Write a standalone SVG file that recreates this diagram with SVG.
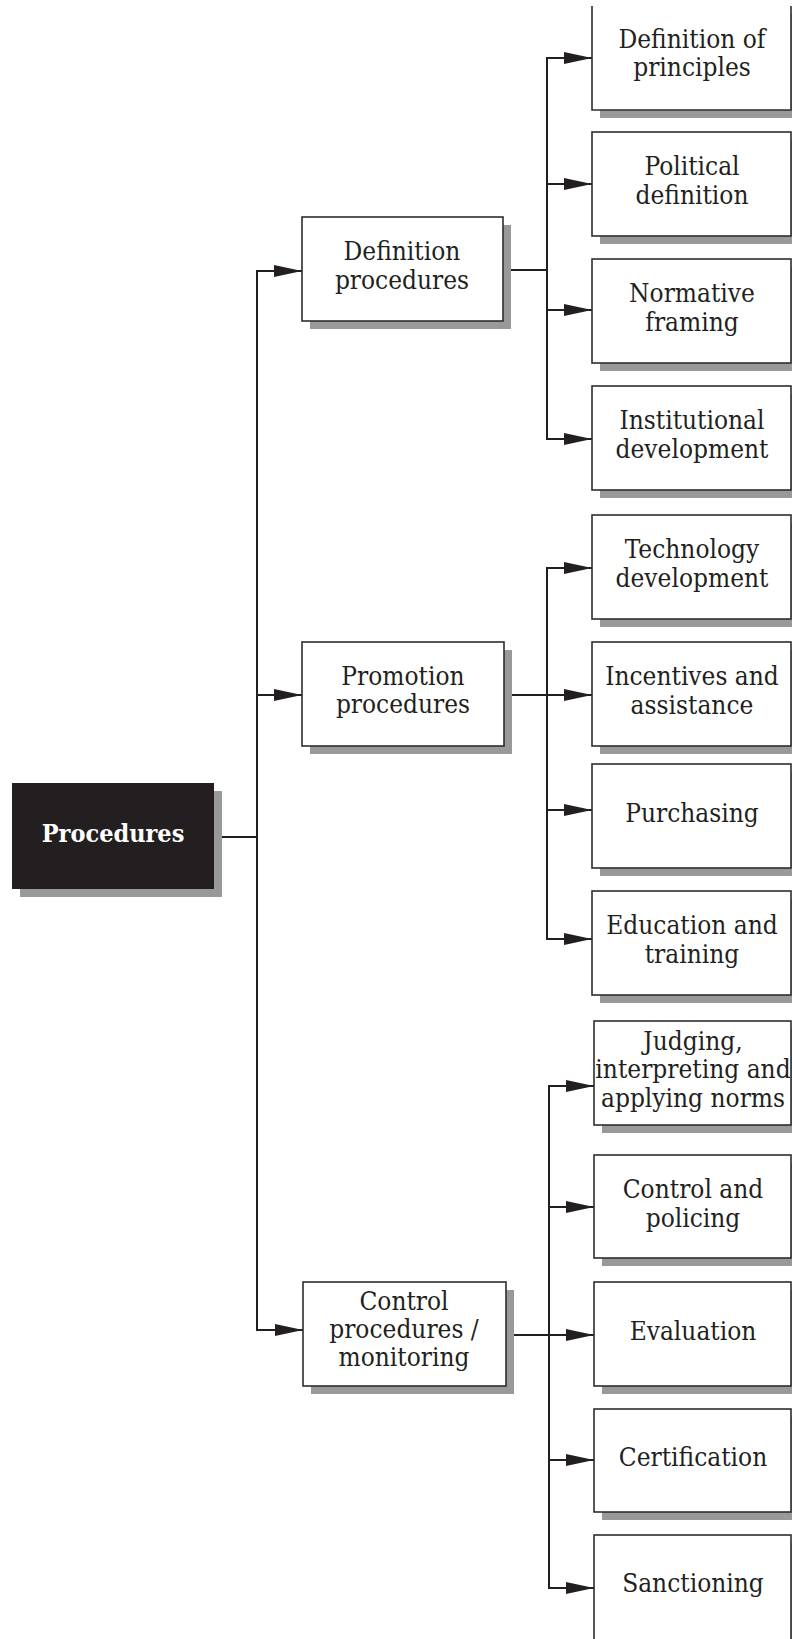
<svg xmlns="http://www.w3.org/2000/svg" width="792" height="1639" viewBox="0 0 792 1639">
  <style>
    .shadow { fill: #999999; }
    .box { fill: #ffffff; stroke: #2e2e2e; stroke-width: 1.6; }
    .root { fill: #231f20; }
    .lbl { font-family: "DejaVu Serif Condensed", "DejaVu Serif", serif; font-size: 26px; fill: #231f20; text-anchor: middle; }
    .root-lbl { font-family: "DejaVu Serif Condensed", "DejaVu Serif", serif; font-weight: bold; font-size: 25px; fill: #ffffff; text-anchor: middle; }
    .wire { fill: none; stroke: #231f20; stroke-width: 2; }
  </style>
  <defs>
    <marker id="arrow" viewBox="0 0 28 12" refX="28" refY="6" markerWidth="28" markerHeight="12" markerUnits="userSpaceOnUse" orient="auto">
      <path d="M0,0 L28,6 L0,12 z" fill="#231f20"/>
    </marker>
  </defs>
  <rect width="792" height="1639" fill="#ffffff"/>

  <!-- connectors -->
  <g id="connectors">
    <path class="wire" d="M214,837 H257"/>
    <path class="wire" d="M257,837 V271 H302" marker-end="url(#arrow)"/>
    <path class="wire" d="M257,837 V695 H302" marker-end="url(#arrow)"/>
    <path class="wire" d="M257,837 V1330 H303" marker-end="url(#arrow)"/>

    <path class="wire" d="M503,270 H547"/>
    <path class="wire" d="M547,270 V58 H592" marker-end="url(#arrow)"/>
    <path class="wire" d="M547,270 V184 H592" marker-end="url(#arrow)"/>
    <path class="wire" d="M547,270 V310 H592" marker-end="url(#arrow)"/>
    <path class="wire" d="M547,270 V439 H592" marker-end="url(#arrow)"/>

    <path class="wire" d="M504,695 H547"/>
    <path class="wire" d="M547,695 V568 H592" marker-end="url(#arrow)"/>
    <path class="wire" d="M547,695 H592" marker-end="url(#arrow)"/>
    <path class="wire" d="M547,695 V810 H592" marker-end="url(#arrow)"/>
    <path class="wire" d="M547,695 V939 H592" marker-end="url(#arrow)"/>

    <path class="wire" d="M506,1335 H549"/>
    <path class="wire" d="M549,1335 V1086 H594" marker-end="url(#arrow)"/>
    <path class="wire" d="M549,1335 V1207 H594" marker-end="url(#arrow)"/>
    <path class="wire" d="M549,1335 H594" marker-end="url(#arrow)"/>
    <path class="wire" d="M549,1335 V1460 H594" marker-end="url(#arrow)"/>
    <path class="wire" d="M549,1335 V1588 H594" marker-end="url(#arrow)"/>
  </g>

  <!-- root -->
  <g id="procedures">
    <rect class="shadow" x="20" y="791" width="202" height="106"/>
    <rect class="root" x="12" y="783" width="202" height="106"/>
    <text class="root-lbl" x="113" y="842">Procedures</text>
  </g>

  <!-- second level -->
  <g id="definition-procedures">
    <rect class="shadow" x="310" y="225" width="201" height="104"/>
    <rect class="box" x="302" y="217" width="201" height="104"/>
    <text class="lbl" x="402" y="260">Definition</text>
    <text class="lbl" x="402" y="289">procedures</text>
  </g>
  <g id="promotion-procedures">
    <rect class="shadow" x="310" y="650" width="202" height="104"/>
    <rect class="box" x="302" y="642" width="202" height="104"/>
    <text class="lbl" x="403" y="685">Promotion</text>
    <text class="lbl" x="403" y="713">procedures</text>
  </g>
  <g id="control-procedures">
    <rect class="shadow" x="311" y="1290" width="203" height="104"/>
    <rect class="box" x="303" y="1282" width="203" height="104"/>
    <text class="lbl" x="404" y="1310">Control</text>
    <text class="lbl" x="404" y="1338">procedures /</text>
    <text class="lbl" x="404" y="1366">monitoring</text>
  </g>

  <!-- third level: definition -->
  <g id="definition-of-principles">
    <rect class="shadow" x="600" y="14" width="200" height="104"/>
    <rect x="592" y="6" width="199" height="104" fill="#ffffff"/>
    <path d="M592,6 V110 H791 V6" fill="none" stroke="#2e2e2e" stroke-width="1.6"/>
    <text class="lbl" x="692" y="48">Definition of</text>
    <text class="lbl" x="692" y="76">principles</text>
  </g>
  <g id="political-definition">
    <rect class="shadow" x="600" y="140" width="200" height="104"/>
    <rect class="box" x="592" y="132" width="199" height="104"/>
    <text class="lbl" x="692" y="175">Political</text>
    <text class="lbl" x="692" y="204">definition</text>
  </g>
  <g id="normative-framing">
    <rect class="shadow" x="600" y="267" width="200" height="104"/>
    <rect class="box" x="592" y="259" width="199" height="104"/>
    <text class="lbl" x="692" y="302">Normative</text>
    <text class="lbl" x="692" y="331">framing</text>
  </g>
  <g id="institutional-development">
    <rect class="shadow" x="600" y="394" width="200" height="104"/>
    <rect class="box" x="592" y="386" width="199" height="104"/>
    <text class="lbl" x="692" y="429">Institutional</text>
    <text class="lbl" x="692" y="458">development</text>
  </g>

  <!-- third level: promotion -->
  <g id="technology-development">
    <rect class="shadow" x="600" y="523" width="200" height="104"/>
    <rect class="box" x="592" y="515" width="199" height="104"/>
    <text class="lbl" x="692" y="558">Technology</text>
    <text class="lbl" x="692" y="587">development</text>
  </g>
  <g id="incentives-and-assistance">
    <rect class="shadow" x="600" y="650" width="200" height="104"/>
    <rect class="box" x="592" y="642" width="199" height="104"/>
    <text class="lbl" x="692" y="685">Incentives and</text>
    <text class="lbl" x="692" y="714">assistance</text>
  </g>
  <g id="purchasing">
    <rect class="shadow" x="600" y="772" width="200" height="104"/>
    <rect class="box" x="592" y="764" width="199" height="104"/>
    <text class="lbl" x="692" y="822">Purchasing</text>
  </g>
  <g id="education-and-training">
    <rect class="shadow" x="600" y="899" width="200" height="104"/>
    <rect class="box" x="592" y="891" width="199" height="104"/>
    <text class="lbl" x="692" y="934">Education and</text>
    <text class="lbl" x="692" y="963">training</text>
  </g>

  <!-- third level: control -->
  <g id="judging-interpreting">
    <rect class="shadow" x="602" y="1029" width="200" height="104"/>
    <rect class="box" x="594" y="1021" width="197" height="104"/>
    <text class="lbl" x="693" y="1050">Judging,</text>
    <text class="lbl" x="693" y="1078">interpreting and</text>
    <text class="lbl" x="693" y="1107">applying norms</text>
  </g>
  <g id="control-and-policing">
    <rect class="shadow" x="602" y="1163" width="200" height="103"/>
    <rect class="box" x="594" y="1155" width="197" height="103"/>
    <text class="lbl" x="693" y="1198">Control and</text>
    <text class="lbl" x="693" y="1227">policing</text>
  </g>
  <g id="evaluation">
    <rect class="shadow" x="602" y="1290" width="200" height="104"/>
    <rect class="box" x="594" y="1282" width="197" height="104"/>
    <text class="lbl" x="693" y="1340">Evaluation</text>
  </g>
  <g id="certification">
    <rect class="shadow" x="602" y="1417" width="200" height="103"/>
    <rect class="box" x="594" y="1409" width="197" height="103"/>
    <text class="lbl" x="693" y="1466">Certification</text>
  </g>
  <g id="sanctioning">
    <rect class="shadow" x="602" y="1543" width="200" height="110"/>
    <rect class="box" x="594" y="1535" width="197" height="110"/>
    <text class="lbl" x="693" y="1592">Sanctioning</text>
  </g>
</svg>
